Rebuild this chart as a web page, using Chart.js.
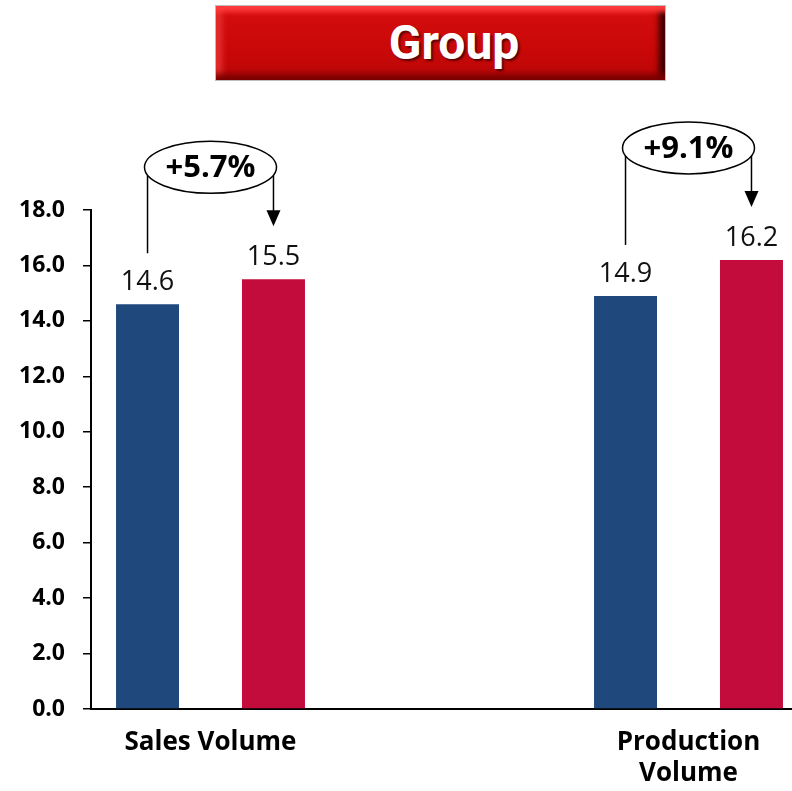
<!DOCTYPE html>
<html>
<head>
<meta charset="utf-8">
<script src="https://cdn.jsdelivr.net/npm/chart.js@4.4.1/dist/chart.umd.min.js"></script>
<style>
  html, body { margin: 0; padding: 0; background: #fff; width: 792px; height: 791px; overflow: hidden; }
  #wrap { position: relative; width: 792px; height: 791px; overflow: hidden; }
  #chart { position: absolute; left: 0; top: 0; }
  #banner {
    position: absolute; left: 215px; top: 5px; width: 451px; height: 76px;
    box-sizing: border-box; border: 1px solid #bdbdbd;
    background: linear-gradient(#d60d0d, #c90808 60%, #bb0606);
    box-shadow: inset 0 10px 5px -4px #ff3b3b, inset 0 -10px 6px -4px #7a0000,
                inset -12px 0 6px -6px #3a0000, inset 12px 0 6px -6px #e83030;
    color: #fff; font: bold 48px Roboto, sans-serif; line-height: 74px;
    text-align: center; padding-left: 27px;
    text-shadow: 2px 2px 2px rgba(0, 0, 0, 0.55);
  }
</style>
</head>
<body>
<div id="wrap">
  <canvas id="chart" width="808" height="791"></canvas>
  <div id="banner">Group</div>
</div>
<script>
// Chart data (the empty middle slot keeps the two groups apart)
const categories = ['Sales Volume', '', ['Production', 'Volume']];
const prevValues = [14.6, null, 14.9];
const currValues = [15.5, null, 16.2];
const changeLabels = ['+5.7%', '', '+9.1%'];

const blue = '#1f487c';
const red = '#c40c3c';
const font = '"Open Sans"';

// Value labels above the bars + the ellipse/arrow change callouts
const annotate = {
  id: 'annotate',
  afterDatasetsDraw(chart) {
    const ctx = chart.ctx;
    const m0 = chart.getDatasetMeta(0);
    const m1 = chart.getDatasetMeta(1);
    ctx.save();

    // value labels
    ctx.fillStyle = '#111';
    ctx.font = '27px ' + font;
    ctx.textAlign = 'center';
    ctx.textBaseline = 'alphabetic';
    [m0, m1].forEach((meta, d) => {
      meta.data.forEach((bar, i) => {
        const v = chart.data.datasets[d].data[i];
        if (v == null) return;
        ctx.fillText(v.toFixed(1), bar.x, bar.y - 14);
      });
    });

    // change callouts
    changeLabels.forEach((txt, i) => {
      if (!txt) return;
      const a = m0.data[i], b = m1.data[i];
      const cx = (a.x + b.x) / 2;
      const top = Math.min(a.y, b.y);
      const cy = top - 112;
      const rx = 66, ry = 26;
      const edge = dx => cy + ry * Math.sqrt(Math.max(0, 1 - (dx * dx) / (rx * rx)));

      ctx.strokeStyle = '#000';
      ctx.lineWidth = 1.5;

      // left line (from first bar up into the ellipse)
      ctx.beginPath();
      ctx.moveTo(a.x, a.y - 51);
      ctx.lineTo(a.x, edge(a.x - cx));
      ctx.stroke();

      // right line with arrow down to second bar
      const tip = b.y - 53;
      ctx.beginPath();
      ctx.moveTo(b.x, edge(b.x - cx));
      ctx.lineTo(b.x, tip - 14);
      ctx.stroke();
      ctx.fillStyle = '#000';
      ctx.beginPath();
      ctx.moveTo(b.x - 7, tip - 16);
      ctx.lineTo(b.x + 7, tip - 16);
      ctx.lineTo(b.x, tip);
      ctx.closePath();
      ctx.fill();

      // ellipse
      ctx.beginPath();
      ctx.ellipse(cx, cy, rx, ry, 0, 0, Math.PI * 2);
      ctx.fillStyle = '#fff';
      ctx.fill();
      ctx.stroke();

      ctx.fillStyle = '#000';
      ctx.font = 'bold 31px ' + font;
      ctx.textBaseline = 'middle';
      ctx.fillText(txt, cx, cy + 1);
      ctx.textBaseline = 'alphabetic';
    });
    ctx.restore();
  }
};

new Chart(document.getElementById('chart'), {
  type: 'bar',
  data: {
    labels: categories,
    datasets: [
      { label: 'Previous', data: prevValues, backgroundColor: blue, categoryPercentage: 1.054, barPercentage: 0.5 },
      { label: 'Current', data: currValues, backgroundColor: red, categoryPercentage: 1.054, barPercentage: 0.5 }
    ]
  },
  options: {
    responsive: false,
    animation: false,
    devicePixelRatio: 1,
    layout: { padding: { top: 210, right: 0, bottom: 0, left: 0 } },
    plugins: { legend: { display: false }, tooltip: { enabled: false } },
    scales: {
      x: {
        grid: { display: false, drawTicks: false },
        border: { color: '#000', width: 2 },
        ticks: { color: '#000', font: { family: font, weight: 'bold', size: 26, lineHeight: 1.2 }, padding: 18, maxRotation: 0, autoSkip: false },
        afterFit(s) { s.height = 82; }
      },
      y: {
        min: 0, max: 18,
        grid: { drawOnChartArea: false, drawTicks: true, tickLength: 8, color: '#000', lineWidth: 1.5 },
        border: { color: '#000', width: 2 },
        ticks: { stepSize: 2, color: '#000', padding: 18, font: { family: font, weight: 'bold', size: 23 }, callback: v => v.toFixed(1) },
        afterFit(s) { s.width = 91; }
      }
    }
  },
  plugins: [annotate]
});
</script>
</body>
</html>
